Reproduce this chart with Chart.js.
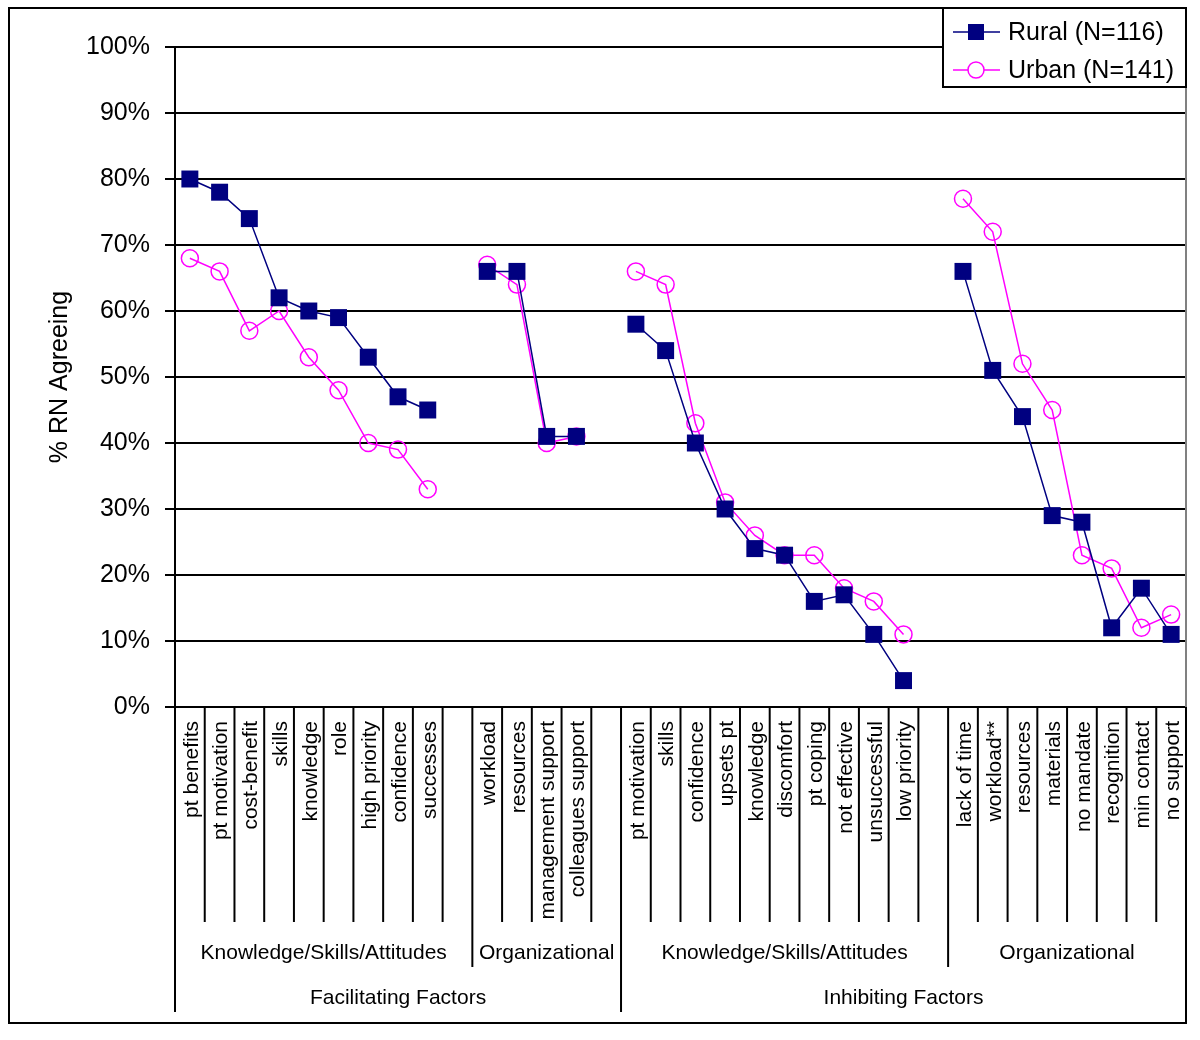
<!DOCTYPE html>
<html>
<head>
<meta charset="utf-8">
<script src="https://cdn.jsdelivr.net/npm/chart.js@4/dist/chart.umd.min.js"></script>
<style>
  body { margin: 0; background: #fff; }
  #wrap { width: 1200px; height: 1040px; }
</style>
</head>
<body>
<div id="wrap"><canvas id="myChart" width="1200" height="1040"></canvas></div>
<script>
// categories ("" = gap column between groups)
const categories = [
  "pt benefits", "pt motivation", "cost-benefit", "skills", "knowledge", "role", "high priority", "confidence", "successes", "",
  "workload", "resources", "management support", "colleagues support", "",
  "pt motivation", "skills", "confidence", "upsets pt", "knowledge", "discomfort", "pt coping", "not effective", "unsuccessful", "low priority", "",
  "lack of time", "workload**", "resources", "materials", "no mandate", "recognition", "min contact", "no support"
];
const subGroups = [
  { label: "Knowledge/Skills/Attitudes", from: 0, to: 10 },
  { label: "Organizational", from: 10, to: 15 },
  { label: "Knowledge/Skills/Attitudes", from: 15, to: 26 },
  { label: "Organizational", from: 26, to: 34 }
];
const mainGroups = [
  { label: "Facilitating Factors", from: 0, to: 15 },
  { label: "Inhibiting Factors", from: 15, to: 34 }
];
const rural = [
  80, 78, 74, 62, 60, 59, 53, 47, 45, null,
  66, 66, 41, 41, null,
  58, 54, 40, 30, 24, 23, 16, 17, 11, 4, null,
  66, 51, 44, 29, 28, 12, 18, 11
];
const urban = [
  68, 66, 57, 60, 53, 48, 40, 39, 33, null,
  67, 64, 40, 41, null,
  66, 64, 43, 31, 26, 23, 23, 18, 16, 11, null,
  77, 72, 52, 45, 23, 21, 12, 14
];
const yTicks = [0, 10, 20, 30, 40, 50, 60, 70, 80, 90, 100];

const FONT = "'Liberation Sans', Arial, sans-serif";
const NAVY = "#000080";
const MAGENTA = "#FF00FF";

// draws frame, y title, multi-level x axis and legend
const extrasPlugin = {
  id: "extras",
  afterDraw(chart) {
    const ctx = chart.ctx;
    const area = chart.chartArea;
    const x = chart.scales.x;
    const w = (area.right - area.left) / categories.length;
    const edge = (i) => area.left + i * w;
    ctx.save();

    // outer frame
    ctx.strokeStyle = "#000";
    ctx.lineWidth = 2;
    ctx.strokeRect(9, 8, 1177, 1015);

    // right plot border
    ctx.strokeStyle = "#808080";
    ctx.beginPath();
    ctx.moveTo(area.right, area.top);
    ctx.lineTo(area.right, 1012);
    ctx.stroke();

    // y title
    ctx.fillStyle = "#000";
    ctx.font = "25px " + FONT;
    ctx.textAlign = "center";
    ctx.textBaseline = "middle";
    ctx.save();
    ctx.translate(60, (area.top + area.bottom) / 2);
    ctx.rotate(-Math.PI / 2);
    ctx.fillText("% RN Agreeing", 0, 0);
    ctx.restore();

    // category separators
    ctx.strokeStyle = "#000";
    ctx.lineWidth = 2;
    const subEdges = subGroups.map(g => g.from);
    const mainEdges = mainGroups.map(g => g.from).concat([categories.length]);
    for (let i = 0; i <= categories.length; i++) {
      let bottom = 922;
      if (mainEdges.includes(i)) bottom = 1012;
      else if (subEdges.includes(i)) bottom = 967;
      ctx.beginPath();
      ctx.moveTo(edge(i), area.bottom);
      ctx.lineTo(edge(i), bottom);
      ctx.stroke();
    }

    // category labels
    ctx.font = "21px " + FONT;
    ctx.textAlign = "right";
    ctx.textBaseline = "middle";
    categories.forEach((c, i) => {
      if (!c) return;
      ctx.save();
      ctx.translate(x.getPixelForValue(i) + 2, area.bottom + 14);
      ctx.rotate(-Math.PI / 2);
      ctx.fillText(c, 0, 0);
      ctx.restore();
    });

    // group labels
    ctx.font = "21px " + FONT;
    ctx.textAlign = "center";
    subGroups.forEach(g => {
      ctx.fillText(g.label, (edge(g.from) + edge(g.to)) / 2, 953);
    });
    mainGroups.forEach(g => {
      ctx.fillText(g.label, (edge(g.from) + edge(g.to)) / 2, 998);
    });

    // legend
    const lx = 943, ly = 8, lw = 243, lh = 79;
    ctx.fillStyle = "#fff";
    ctx.fillRect(lx, ly, lw, lh);
    ctx.strokeStyle = "#000";
    ctx.lineWidth = 2;
    ctx.strokeRect(lx, ly, lw, lh);
    const rows = [
      { text: "Rural (N=116)", color: NAVY, square: true, y: 32 },
      { text: "Urban (N=141)", color: MAGENTA, square: false, y: 70 }
    ];
    rows.forEach(r => {
      ctx.strokeStyle = r.color;
      ctx.lineWidth = 1.5;
      ctx.beginPath();
      ctx.moveTo(953, r.y);
      ctx.lineTo(1000, r.y);
      ctx.stroke();
      if (r.square) {
        ctx.fillStyle = r.color;
        ctx.fillRect(968, r.y - 8, 16, 16);
      } else {
        ctx.fillStyle = "#fff";
        ctx.beginPath();
        ctx.arc(976, r.y, 8, 0, Math.PI * 2);
        ctx.fill();
        ctx.stroke();
      }
      ctx.fillStyle = "#000";
      ctx.font = "25px " + FONT;
      ctx.textAlign = "left";
      ctx.fillText(r.text, 1008, r.y + 1);
    });

    ctx.restore();
  }
};

const ctx = document.getElementById("myChart").getContext("2d");
const chart = new Chart(ctx, {
  type: "line",
  data: {
    labels: categories,
    datasets: [
      {
        label: "Rural (N=116)",
        data: rural,
        borderColor: NAVY,
        backgroundColor: NAVY,
        borderWidth: 1.5,
        pointStyle: "rect",
        pointRadius: 12,
        pointBorderWidth: 0,
        pointHoverRadius: 12,
        spanGaps: false,
        tension: 0
      },
      {
        label: "Urban (N=141)",
        data: urban,
        borderColor: MAGENTA,
        backgroundColor: "rgba(255,255,255,0)",
        borderWidth: 1.5,
        pointStyle: "circle",
        pointRadius: 8.5,
        pointBorderWidth: 1.5,
        pointHoverRadius: 8.5,
        spanGaps: false,
        tension: 0
      }
    ]
  },
  options: {
    responsive: false,
    animation: false,
    devicePixelRatio: 1,
    layout: {
      padding: { left: 10, top: 47, right: 14, bottom: 333 }
    },
    plugins: {
      legend: { display: false },
      tooltip: { enabled: false },
      title: { display: false }
    },
    scales: {
      x: {
        type: "category",
        offset: true,
        display: false
      },
      y: {
        min: 0,
        max: 100,
        afterFit: (s) => { s.width = 165; },
        afterBuildTicks: (s) => { s.ticks = yTicks.map(v => ({ value: v })); },
        ticks: {
          callback: (v) => v + "%",
          color: "#000",
          font: { family: FONT, size: 25 },
          padding: 15
        },
        grid: {
          color: "#000",
          lineWidth: 2,
          tickLength: 10,
          drawTicks: true
        },
        border: { color: "#000", width: 2 }
      }
    }
  },
  plugins: [extrasPlugin]
});
</script>
</body>
</html>
